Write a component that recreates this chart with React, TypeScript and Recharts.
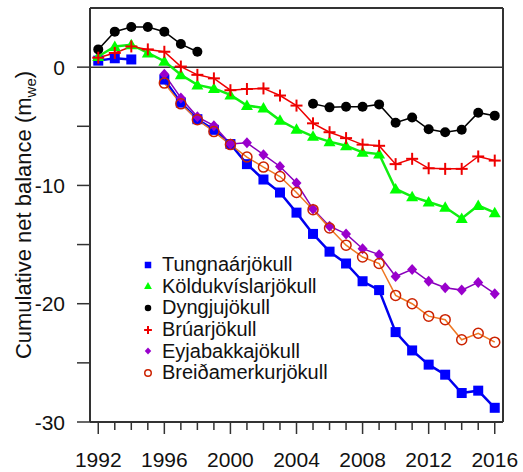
import React from 'react';
import { LineChart, Line, XAxis, YAxis, ReferenceLine, Legend } from 'recharts';

const years = [1992, 1993, 1994, 1995, 1996, 1997, 1998, 1999, 2000, 2001, 2002, 2003, 2004,
  2005, 2006, 2007, 2008, 2009, 2010, 2011, 2012, 2013, 2014, 2015, 2016];

const tungnaa = [0.55, 0.75, 0.65, null, -1.05, -3.0, -4.4, -5.3, -6.5, -8.2, -9.5, -10.6, -12.3,
  -14.1, -15.6, -16.6, -18.1, -18.85, -22.4, -23.95, -25.15, -26.0, -27.55, -27.35, -28.8];
const koldukvisl = [0.9, 1.75, 1.9, 1.2, 0.5, -0.65, -1.5, -1.8, -2.35, -3.25, -3.45, -4.5, -5.25,
  -5.85, -6.3, -6.65, -7.2, -7.35, -10.3, -10.95, -11.4, -11.85, -12.8, -11.7, -12.3];
const dyngju = [1.5, 3.0, 3.4, 3.4, 3.0, 1.95, 1.3, null, null, null, null, null, null,
  -3.1, -3.4, -3.35, -3.35, -3.15, -4.7, -4.25, -5.25, -5.5, -5.3, -3.85, -4.1];
const bruar = [0.8, 1.2, 1.75, 1.5, 1.3, 0.05, -0.65, -0.95, -1.95, -1.85, -1.8, -2.4, -3.25,
  -4.75, -5.5, -6.0, -6.55, -6.65, -8.2, -7.75, -8.55, -8.6, -8.6, -7.55, -7.9];
const eyjabakka = [null, null, null, null, -0.6, -2.6, -4.2, -4.95, -6.5, -6.4, -7.4, -8.4, -9.8,
  -12.0, -13.45, -14.1, -15.35, -15.85, -17.7, -17.1, -18.1, -18.65, -18.85, -18.2, -19.15];
const breida = [null, null, null, null, -1.35, -3.1, -4.45, -5.45, -6.55, -7.6, -8.45, -9.25, -10.6,
  -12.05, -13.6, -15.05, -16.05, -16.6, -19.3, -20.0, -21.05, -21.35, -23.05, -22.5, -23.25];

const yTicks = [-30, -25, -20, -15, -10, -5, 0];

const data = years.map((year, i) => ({
  year,
  tungnaa: tungnaa[i],
  koldukvisl: koldukvisl[i],
  dyngju: dyngju[i],
  bruar: bruar[i],
  eyjabakka: eyjabakka[i],
  breida: breida[i],
}));

const FONT = '"Liberation Sans", Arial, sans-serif';
const AXIS = '#333';

// marker shapes, s = scale
function Marker({ kind, cx, cy, s = 1 }: any) {
  switch (kind) {
    case 'square':
      return <rect x={cx - 5 * s} y={cy - 5 * s} width={10 * s} height={10 * s} fill="#0000ff" />;
    case 'triangle':
      return <polygon points={`${cx},${cy - 6 * s} ${cx + 6 * s},${cy + 4.5 * s} ${cx - 6 * s},${cy + 4.5 * s}`} fill="#00ff00" />;
    case 'circle':
      return <circle cx={cx} cy={cy} r={5 * s} fill="#000" />;
    case 'plus':
      return (
        <g stroke="#ee0000" strokeWidth={2}>
          <line x1={cx - 6 * s} x2={cx + 6 * s} y1={cy} y2={cy} />
          <line x1={cx} x2={cx} y1={cy - 6 * s} y2={cy + 6 * s} />
        </g>
      );
    case 'diamond':
      return <polygon points={`${cx},${cy - 5.5 * s} ${cx + 5 * s},${cy} ${cx},${cy + 5.5 * s} ${cx - 5 * s},${cy}`} fill="#9900cc" />;
    default:
      return <circle cx={cx} cy={cy} r={5 * s} fill="none" stroke="#cc2200" strokeWidth={1.5} />;
  }
}

const series = [
  { key: 'tungnaa', name: 'Tungnaárjökull', color: '#0000ee', width: 2.5, marker: 'square' },
  { key: 'koldukvisl', name: 'Köldukvíslarjökull', color: '#11ee11', width: 2.5, marker: 'triangle' },
  { key: 'dyngju', name: 'Dyngjujökull', color: '#000000', width: 1.5, marker: 'circle' },
  { key: 'bruar', name: 'Brúarjökull', color: '#ee0000', width: 1.5, marker: 'plus' },
  { key: 'eyjabakka', name: 'Eyjabakkajökull', color: '#8800bb', width: 1.5, marker: 'diamond' },
  { key: 'breida', name: 'Breiðamerkurjökull', color: '#ee7722', width: 1.5, marker: 'open' },
];

const makeDot = (kind: string) => (props: any) => {
  if (props.value == null || props.cy == null) return <g key={props.index} />;
  return <Marker key={props.index} kind={kind} cx={props.cx} cy={props.cy} />;
};

function XTick({ x, y, payload }: any) {
  const major = (payload.value - 1992) % 4 === 0;
  return (
    <g>
      <line x1={x} x2={x} y1={y} y2={y + (major ? 12 : 8)} stroke={AXIS} strokeWidth={1.5} />
      {major && (
        <text x={x} y={y + 45} textAnchor="middle" fontSize={21} fontFamily={FONT} fill="#111">
          {payload.value}
        </text>
      )}
    </g>
  );
}

function YTick({ x, y, payload }: any) {
  const major = payload.value % 10 === 0;
  return (
    <g>
      <line x1={x - 13} x2={x} y1={y} y2={y} stroke={AXIS} strokeWidth={1.5} />
      {major && (
        <text x={x - 25} y={y} dy="0.36em" textAnchor="end" fontSize={21} fontFamily={FONT} fill="#111">
          {payload.value}
        </text>
      )}
    </g>
  );
}

function LegendBox() {
  return (
    <div style={{ fontFamily: FONT, fontSize: 20, color: '#111' }}>
      {series.map((s) => (
        <div key={s.key} style={{ display: 'flex', alignItems: 'center', height: 21.6, whiteSpace: 'nowrap' }}>
          <svg width={16} height={16} style={{ marginRight: 6 }}>
            <Marker kind={s.marker} cx={8} cy={8} s={0.65} />
          </svg>
          <span>{s.name}</span>
        </div>
      ))}
    </div>
  );
}

export default function App() {
  return (
    <div style={{ position: 'absolute', left: 0, top: 0, background: '#fff' }}>
      <LineChart width={523} height={472} data={data} margin={{ top: 8, right: 20, bottom: 0, left: 0 }}>
        <XAxis
          dataKey="year"
          type="number"
          domain={[1991.5, 2016.5]}
          ticks={years}
          interval={0}
          height={50}
          tickLine={false}
          tickSize={0}
          tickMargin={0}
          tick={<XTick />}
          axisLine={{ stroke: AXIS, strokeWidth: 2 }}
        />
        <YAxis
          type="number"
          domain={[-30, 5]}
          ticks={yTicks}
          interval={0}
          width={90}
          tickLine={false}
          tickSize={0}
          tickMargin={0}
          tick={<YTick />}
          axisLine={{ stroke: AXIS, strokeWidth: 2 }}
          label={{
            content: () => (
              <text
                x={31}
                y={215}
                transform="rotate(-90, 31, 215)"
                textAnchor="middle"
                fontSize={22}
                fontFamily={FONT}
                fill="#111"
              >
                Cumulative net balance (m
                <tspan fontSize={15} dy={5}>we</tspan>
                <tspan dy={-5}>)</tspan>
              </text>
            ),
          }}
        />
        <ReferenceLine y={5} stroke={AXIS} strokeWidth={2} />
        <ReferenceLine x={2016.5} stroke={AXIS} strokeWidth={2} />
        <ReferenceLine y={0} stroke={AXIS} strokeWidth={1.5} />
        {series.map((s) => (
          <Line
            key={s.key}
            dataKey={s.key}
            name={s.name}
            stroke={s.color}
            strokeWidth={s.width}
            dot={makeDot(s.marker)}
            activeDot={false}
            connectNulls={false}
            isAnimationActive={false}
          />
        ))}
        <Legend
          layout="vertical"
          align="center"
          verticalAlign="middle"
          content={<LegendBox />}
          wrapperStyle={{ position: 'absolute', left: 140, top: 254, width: 220 }}
        />
      </LineChart>
    </div>
  );
}
